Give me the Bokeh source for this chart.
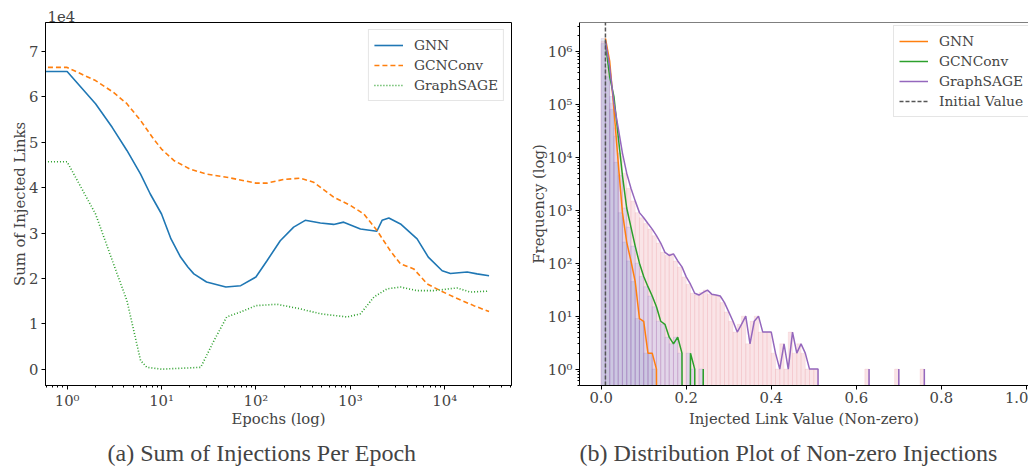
import numpy as np
from bokeh.plotting import figure
from bokeh.models import (FixedTicker, CustomJSTickFormatter, Legend, LegendItem,
                          Label, Span, Range1d)
from bokeh.layouts import row, column
from bokeh.embed import file_html
from bokeh.resources import INLINE

# ---------------- (a) Sum of injections per epoch (values in units of 1e4) ----------------
gnn_epochs = [0, 1, 2, 3, 4.3, 6, 7.6, 10, 12.6, 15.9, 19, 22, 30, 48, 69, 100, 131, 181, 251,
              333, 482, 666, 850, 1280, 1910, 2170, 2560, 3400, 5100, 6700, 9400, 11500, 17300,
              22000, 29500]
gnn_sum = [6.56, 6.56, 5.85, 5.33, 4.82, 4.30, 3.86, 3.42, 2.87, 2.47, 2.25, 2.10, 1.92, 1.81,
           1.84, 2.03, 2.39, 2.83, 3.13, 3.28, 3.22, 3.19, 3.24, 3.09, 3.04, 3.28, 3.33, 3.20,
           2.87, 2.47, 2.17, 2.11, 2.14, 2.10, 2.06]

gcn_epochs = [0, 1, 2, 3.1, 4.3, 6, 8, 10, 13.5, 20, 30, 49, 100, 131, 197, 295, 408, 666,
              1000, 1390, 1910, 2650, 3400, 4700, 6500, 9000, 12500, 20300, 29500]
gcn_sum = [6.65, 6.65, 6.36, 6.10, 5.85, 5.48, 5.11, 4.85, 4.60, 4.41, 4.30, 4.23, 4.10, 4.10,
           4.18, 4.21, 4.12, 3.79, 3.61, 3.42, 3.06, 2.61, 2.32, 2.21, 1.88, 1.73, 1.59, 1.40,
           1.27]

sage_epochs = [0, 1, 2, 3.1, 4.3, 6, 7, 10, 26, 36, 49, 69, 100, 167, 295, 482, 930, 1280,
               1780, 2450, 3400, 5100, 7600, 13500, 18600, 29500]
sage_sum = [4.57, 4.57, 3.42, 2.32, 1.51, 0.19, 0.04, 0.0, 0.04, 0.63, 1.15, 1.26, 1.40, 1.43,
            1.33, 1.22, 1.15, 1.22, 1.59, 1.77, 1.81, 1.73, 1.73, 1.79, 1.70, 1.72]

a_xticks = [1, 10, 100, 1000, 10000]
a_yticks = [0, 1, 2, 3, 4, 5, 6, 7]

# ---------------- (b) Histogram of non-zero injected link values ----------------
n_bins = 100
bin_lo, bin_hi = 0.0, 1.0
gnn_counts = [1750000, 650000, 80000, 8000, 900, 250, 110, 45, 9, 8, 2, 2, 1]
gcn_counts = [1400000, 330000, 140000, 25000, 4500, 1100, 480, 210, 100, 56, 36, 24, 15, 8, 7,
              4, 3, 4, 2, 0, 2, 1, 0, 1]
sage_counts = [1550000, 500000, 105000, 36000, 12000, 5000, 2600, 1500, 900, 720, 560, 440,
               330, 240, 160, 140, 150, 110, 85, 55, 40, 27, 25, 28, 31, 26, 25, 24, 18, 12,
               8, 5, 7, 10, 3, 8, 10, 5, 5, 5, 2, 1, 3, 1, 5, 2, 3, 2, 1, 1, 1,
               0, 0, 0, 0, 0, 0, 0, 0, 0, 0, 0, 1, 0, 0, 0, 0, 0, 0, 1, 0, 0, 0, 0, 0, 1]
initial_value = 0.01
b_xticks = [0.0, 0.2, 0.4, 0.6, 0.8, 1.0]
b_yticks = [1, 10, 100, 1000, 10000, 100000, 1000000]

caption_a = "(a) Sum of Injections Per Epoch"
caption_b = "(b) Distribution Plot of Non-zero Injections"

SERIF = "DejaVu Serif"
CAP_FONT = "Liberation Serif"
TICK_FS = "14.8px"
LAB_FS = "14.8px"
LEG_FS = "13.8px"
CAP_FS = "24px"

SUPER_JS = """
const sup = {'0':'\\u2070','1':'\\u00b9','2':'\\u00b2','3':'\\u00b3','4':'\\u2074',
             '5':'\\u2075','6':'\\u2076','7':'\\u2077','8':'\\u2078','9':'\\u2079','-':'\\u207b'};
const e = Math.round(Math.log10(tick));
return '10' + String(e).split('').map(c => sup[c]).join('');
"""


def style_axes(p):
    for ax in p.axis:
        ax.major_label_text_font = SERIF
        ax.major_label_text_font_size = TICK_FS
        ax.axis_label_text_font = SERIF
        ax.axis_label_text_font_size = LAB_FS
        ax.axis_label_text_font_style = "normal"
        ax.major_tick_in = 0
        ax.major_tick_out = 4
        ax.minor_tick_in = 0
        ax.minor_tick_out = 2
        ax.axis_label_standoff = -2
        ax.axis_line_color = "black"
        ax.major_tick_line_color = "black"
        ax.minor_tick_line_color = "black"
    p.xaxis.major_label_standoff = 2
    p.yaxis.major_label_standoff = 3
    p.xgrid.visible = False
    p.ygrid.visible = False


def style_legend(leg):
    leg.label_text_font = SERIF
    leg.label_text_font_size = LEG_FS
    leg.glyph_width = 29
    leg.glyph_height = 20
    leg.label_height = 20
    leg.label_standoff = 11
    leg.spacing = 0
    leg.padding = 5
    leg.border_line_color = "#cccccc"
    leg.border_line_width = 1
    leg.background_fill_alpha = 0.85


def text_strip(width, height):
    """A bare figure used only to hold text outside the plot frames."""
    f = figure(width=width, height=height, x_range=Range1d(0, width), y_range=Range1d(0, height),
               x_axis_location=None, y_axis_location=None, output_backend="svg",
               toolbar_location=None, min_border=0)
    f.outline_line_color = None
    f.xgrid.visible = False
    f.ygrid.visible = False
    return f


W_A, W_B = 519, 509
H_HEAD, H_MAIN, H_CAP = 22, 407, 37

# ---------------- figure (a) ----------------
xa0, xa1 = 0.59, 51000
ya0, ya1 = -0.36, 7.64
pa = figure(x_axis_type="log", width=W_A, height=H_MAIN,
            x_range=Range1d(xa0, xa1), y_range=Range1d(ya0, ya1),
            output_backend="svg", toolbar_location=None,
            min_border_left=45, min_border_right=8, min_border_top=0, min_border_bottom=0)
pa.outline_line_color = "black"
pa.outline_line_alpha = 1

clip = 1e-3
r1 = pa.line(np.maximum(gnn_epochs, clip), gnn_sum, line_color="#1f77b4", line_width=1.6)
r2 = pa.line(np.maximum(gcn_epochs, clip), gcn_sum, line_color="#ff7f0e", line_width=1.6,
             line_dash="5 3")
r3 = pa.line(np.maximum(sage_epochs, clip), sage_sum, line_color="#2ca02c", line_width=1.6,
             line_dash="1 2")

pa.xaxis.axis_label = "Epochs (log)"
pa.yaxis.axis_label = "Sum of Injected Links"
pa.xaxis.ticker = FixedTicker(ticks=a_xticks,
                              minor_ticks=[m * 10.0 ** k for k in range(-1, 5) for m in range(2, 10)])
pa.xaxis.formatter = CustomJSTickFormatter(code=SUPER_JS)
pa.yaxis.ticker = FixedTicker(ticks=a_yticks, minor_ticks=[])
style_axes(pa)

leg_a = Legend(items=[LegendItem(label="GNN", renderers=[r1]),
                      LegendItem(label="GCNConv", renderers=[r2]),
                      LegendItem(label="GraphSAGE", renderers=[r3])],
               location="top_right", margin=7)
style_legend(leg_a)
pa.add_layout(leg_a)

# ---------------- figure (b) ----------------
edges = np.linspace(bin_lo, bin_hi, n_bins + 1)


def padded(c):
    return np.array(list(c) + [0] * (n_bins - len(c)), dtype=float)


xb0, xb1 = -0.051, 1.005
yb0, yb1 = 0.49, 3.5e6
pb = figure(y_axis_type="log", width=W_B, height=H_MAIN,
            x_range=Range1d(xb0, xb1), y_range=Range1d(yb0, yb1),
            output_backend="svg", toolbar_location=None,
            min_border_left=60, min_border_right=0, min_border_top=0, min_border_bottom=0)
pb.outline_line_color = None

floor = 1e-2
hist_styles = [
    (sage_counts, "#e67887", "#e67887", 0.12),
    (gcn_counts, "#8299f6", "#9467bd", 0.15),
    (gnn_counts, "#7891c3", "#9467bd", 0.15),
]
for counts, fc, lc, la in hist_styles:
    c = padded(counts)
    m = c > 0
    pb.quad(left=edges[:-1][m], right=edges[1:][m], bottom=floor, top=c[m],
            fill_color=fc, fill_alpha=0.2, line_color=lc, line_alpha=la, line_width=1)

tiny = 1e-30
line_x = edges[1:]
l1 = pb.line(line_x, np.where(padded(gnn_counts) > 0, padded(gnn_counts), tiny),
             line_color="#ff7f0e", line_width=1.5)
l2 = pb.line(line_x, np.where(padded(gcn_counts) > 0, padded(gcn_counts), tiny),
             line_color="#2ca02c", line_width=1.5)
l3 = pb.line(line_x, np.where(padded(sage_counts) > 0, padded(sage_counts), tiny),
             line_color="#9467bd", line_width=1.5)
l4 = pb.line([initial_value, initial_value], [yb0, yb1], line_color="#555555",
             line_width=1.5, line_dash="4 2")

# top border (the right border is cut off in the reference)
pb.add_layout(Span(location=yb1, dimension="width", line_color="black", line_width=1))

pb.xaxis.axis_label = "Injected Link Value (Non-zero)"
pb.yaxis.axis_label = "Frequency (log)"
pb.xaxis.ticker = FixedTicker(ticks=b_xticks, minor_ticks=[])
pb.xaxis.formatter = CustomJSTickFormatter(code="return tick.toFixed(1);")
pb.yaxis.ticker = FixedTicker(ticks=b_yticks,
                              minor_ticks=[m * 10.0 ** k for k in range(-1, 7) for m in range(2, 10)])
pb.yaxis.formatter = CustomJSTickFormatter(code=SUPER_JS)
style_axes(pb)
pb.xaxis.axis_label_standoff = 4

leg_b = Legend(items=[LegendItem(label="GNN", renderers=[l1]),
                      LegendItem(label="GCNConv", renderers=[l2]),
                      LegendItem(label="GraphSAGE", renderers=[l3]),
                      LegendItem(label="Initial Value", renderers=[l4])],
               location=(314, 268))
style_legend(leg_b)
pb.add_layout(leg_b)

# ---------------- text strips: exponent label above (a), captions below ----------------
head = text_strip(W_A, H_HEAD)
head.add_layout(Label(x=47, y=6.5, text="1e4", text_baseline="middle", text_align="left",
                      text_font=SERIF, text_font_size=TICK_FS))

cap_a = text_strip(W_A, H_CAP)
cap_a.add_layout(Label(x=107, y=14, text=caption_a, text_baseline="middle", text_align="left",
                       text_font=CAP_FONT, text_font_size=CAP_FS))
cap_b = text_strip(W_B, H_CAP)
cap_b.add_layout(Label(x=60, y=14, text=caption_b, text_baseline="middle", text_align="left",
                       text_font=CAP_FONT, text_font_size=CAP_FS))

layout = column(head, row(pa, pb), row(cap_a, cap_b))
open("out.html", "w").write(file_html(layout, INLINE))
